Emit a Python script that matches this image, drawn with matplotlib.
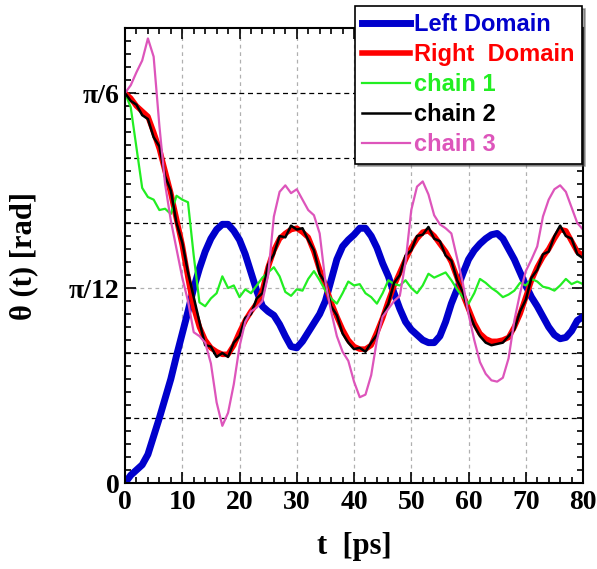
import numpy as np
import matplotlib
matplotlib.use("Agg")
import matplotlib.pyplot as plt
from matplotlib.ticker import MultipleLocator

# time axis, ps
t = list(range(0, 81))

# angles, in degrees
left_domain = [0.0, 0.6, 1.0, 1.4, 2.2, 3.6, 5.0, 6.5, 8.0, 9.8,
               11.5, 13.2, 15.0, 16.5, 17.8, 18.8, 19.5, 19.9, 19.9, 19.4,
               18.7, 17.6, 16.2, 14.8, 13.6, 13.2, 12.9, 12.2, 11.3, 10.5,
               10.4, 10.9, 11.6, 12.3, 13.0, 14.0, 15.6, 17.2, 18.2, 18.7,
               19.1, 19.6, 19.6, 19.0, 18.1, 16.9, 15.9, 14.6, 13.4, 12.4,
               11.8, 11.4, 11.0, 10.8, 10.8, 11.3, 12.4, 13.8, 14.9, 16.1,
               17.2, 17.9, 18.4, 18.8, 19.1, 19.2, 18.8, 18.0, 17.2, 16.2,
               15.2, 14.3, 13.6, 12.8, 12.0, 11.4, 11.1, 11.2, 11.7, 12.5,
               12.8]
right_domain = [30.0, 29.6, 29.0, 28.6, 28.2, 27.0, 25.7, 24.0, 22.3, 20.3,
                18.3, 15.8, 13.5, 12.0, 11.0, 10.4, 10.1, 9.9, 9.9, 10.6,
                11.6, 12.5, 13.2, 13.8, 14.8, 16.6, 17.9, 18.8, 19.2, 19.5,
                19.6, 19.3, 18.9, 17.8, 16.4, 15.2, 13.9, 12.8, 11.8, 11.0,
                10.5, 10.3, 10.3, 10.6, 11.6, 12.7, 14.0, 15.2, 16.2, 17.2,
                18.1, 18.8, 19.3, 19.4, 19.0, 18.4, 17.8, 17.0, 15.8, 14.5,
                13.4, 12.3, 11.5, 11.1, 10.9, 10.9, 11.0, 11.2, 12.0, 13.0,
                14.3, 15.6, 16.6, 17.4, 18.0, 18.8, 19.5, 19.4, 18.6, 17.8,
                17.5]
chain1 = [30.0, 28.9, 25.8, 22.7, 22.0, 21.8, 21.0, 21.1, 20.7, 22.1,
          21.8, 21.6, 17.5, 13.9, 13.6, 14.2, 14.6, 15.9, 15.0, 15.2,
          14.3, 14.9, 14.6, 15.2, 15.8, 16.2, 16.6, 15.9, 14.7, 14.4,
          14.9, 14.8, 15.7, 16.3, 15.6, 14.8, 14.2, 13.8, 14.6, 15.5,
          15.2, 15.3, 14.6, 14.3, 13.8, 14.6, 15.6, 15.3, 15.2, 15.6,
          15.0, 14.6, 15.2, 16.1, 15.8, 16.0, 16.2, 15.6, 14.9, 14.3,
          13.8, 14.6, 15.7, 15.4, 15.0, 14.7, 14.3, 14.5, 14.8, 15.4,
          15.2, 15.7, 15.5, 15.1, 15.0, 14.8, 15.2, 15.7, 15.3, 15.5,
          15.3]
chain2 = [30.0, 29.4, 29.1, 28.3, 28.0, 26.6, 25.9, 23.6, 22.5, 20.0,
          18.5, 16.2, 14.3, 12.4, 10.6, 10.5, 9.7, 10.0, 9.7, 10.8,
          11.3, 12.7, 13.0, 14.2, 14.6, 16.8, 17.6, 19.0, 18.9, 19.8,
          19.5, 19.6, 18.7, 17.9, 16.1, 15.4, 13.6, 12.9, 11.5, 10.8,
          10.3, 10.4, 10.1, 10.8, 11.4, 12.9, 13.8, 15.4, 16.0, 17.5,
          17.9, 19.0, 19.1, 19.7, 18.8, 18.6, 17.5, 17.1, 15.6, 14.7,
          13.2, 12.1, 11.3, 10.8, 10.6, 10.7, 10.8, 11.3, 11.8, 13.2,
          14.1, 15.8, 16.4, 17.6, 17.8, 19.0, 19.8, 19.0, 18.8, 17.6,
          17.3]
chain3 = [30.0, 30.6, 31.6, 32.5, 34.2, 32.8, 27.5, 23.0, 20.2, 18.0,
          15.8, 14.0, 11.6, 11.3, 10.8, 9.2, 6.2, 4.4, 5.4, 7.6,
          10.5, 12.4, 13.2, 13.5, 14.0, 16.0, 20.5, 22.4, 22.9, 22.3,
          22.6, 21.8, 21.0, 20.6, 19.2, 15.5, 13.2, 11.3, 10.1, 9.4,
          7.8, 6.6, 6.8, 8.3, 11.0, 12.8, 13.4, 14.0, 14.4, 17.0,
          21.0, 22.8, 23.2, 22.2, 20.6, 19.9, 19.6, 19.2, 17.3, 15.4,
          13.0, 11.0, 9.3, 8.4, 7.9, 7.8, 8.1, 9.6, 12.5, 14.6,
          16.3, 17.2, 18.2, 20.5, 21.8, 22.6, 22.9, 22.4, 21.2, 20.0,
          19.5]

ytick_vals = [0, np.pi / 12, np.pi / 6]
ytick_labels = ["0", "\u03c0/12", "\u03c0/6"]

fig = plt.figure(figsize=(5.97, 5.69), dpi=100)
ax = fig.add_axes([0.2094, 0.1511, 0.7672, 0.7996])

# grid: grey vertical, black dashed horizontal (grey at pi/12)
for xv in range(10, 80, 10):
    ax.axvline(xv, color="#b0b0b0", lw=0.9, ls=(0, (3, 3)), zorder=0)
for dv in [5, 10, 20, 25, 30]:
    ax.axhline(np.deg2rad(dv), color="black", lw=0.9, ls=(0, (4, 3)), zorder=0)
ax.axhline(np.pi / 12, color="#b0b0b0", lw=0.9, ls=(0, (3, 3)), zorder=0)

ax.plot(t, np.deg2rad(left_domain), color="#0000cc", lw=5.0, label="Left Domain")
ax.plot(t, np.deg2rad(right_domain), color="#ff0000", lw=4.0, label="Right  Domain")
ax.plot(t, np.deg2rad(chain1), color="#22ee22", lw=1.6, label="chain 1")
ax.plot(t, np.deg2rad(chain2), color="black", lw=1.8, label="chain 2")
ax.plot(t, np.deg2rad(chain3), color="#dd55bb", lw=1.6, label="chain 3")

ax.set_xlim(0, 80)
ax.set_ylim(0, np.deg2rad(35))
ax.xaxis.set_major_locator(MultipleLocator(10))
ax.xaxis.set_minor_locator(MultipleLocator(2))
ax.yaxis.set_minor_locator(MultipleLocator(np.deg2rad(1)))
ax.set_yticks(ytick_vals)
ax.set_yticklabels(ytick_labels)
ax.tick_params(which="both", direction="in", top=True, right=True, width=1.2)
ax.tick_params(which="major", length=8)
ax.tick_params(which="minor", length=4)
for lab in ax.get_xticklabels() + ax.get_yticklabels():
    lab.set_fontfamily("Liberation Serif")
    lab.set_fontweight("bold")
    lab.set_fontsize(20)
ax.tick_params(axis="x", pad=5)
ax.tick_params(axis="y", pad=4)
for sp in ax.spines.values():
    sp.set_linewidth(1.5)

ax.set_xlabel("t  [ps]", fontfamily="Liberation Serif", fontweight="bold",
              fontsize=22, labelpad=12)
ax.set_ylabel("\u03b8 (t) [rad]", fontfamily="Liberation Serif", fontweight="bold",
              fontsize=22, labelpad=22)

leg = ax.legend(loc="upper right", bbox_to_anchor=(582 / 597, 1 - 6 / 569),
                bbox_transform=fig.transFigure, borderaxespad=0,
                frameon=True, fancybox=False,
                shadow=True, labelcolor="linecolor", handlelength=2.0,
                labelspacing=0.3, borderpad=0.3, handletextpad=0.2,
                prop={"family": "Liberation Sans", "weight": "bold", "size": 17})
leg.get_frame().set_edgecolor("black")
leg.get_frame().set_linewidth(1.2)
leg.set_zorder(10)

fig.savefig("out.png", dpi=100)
